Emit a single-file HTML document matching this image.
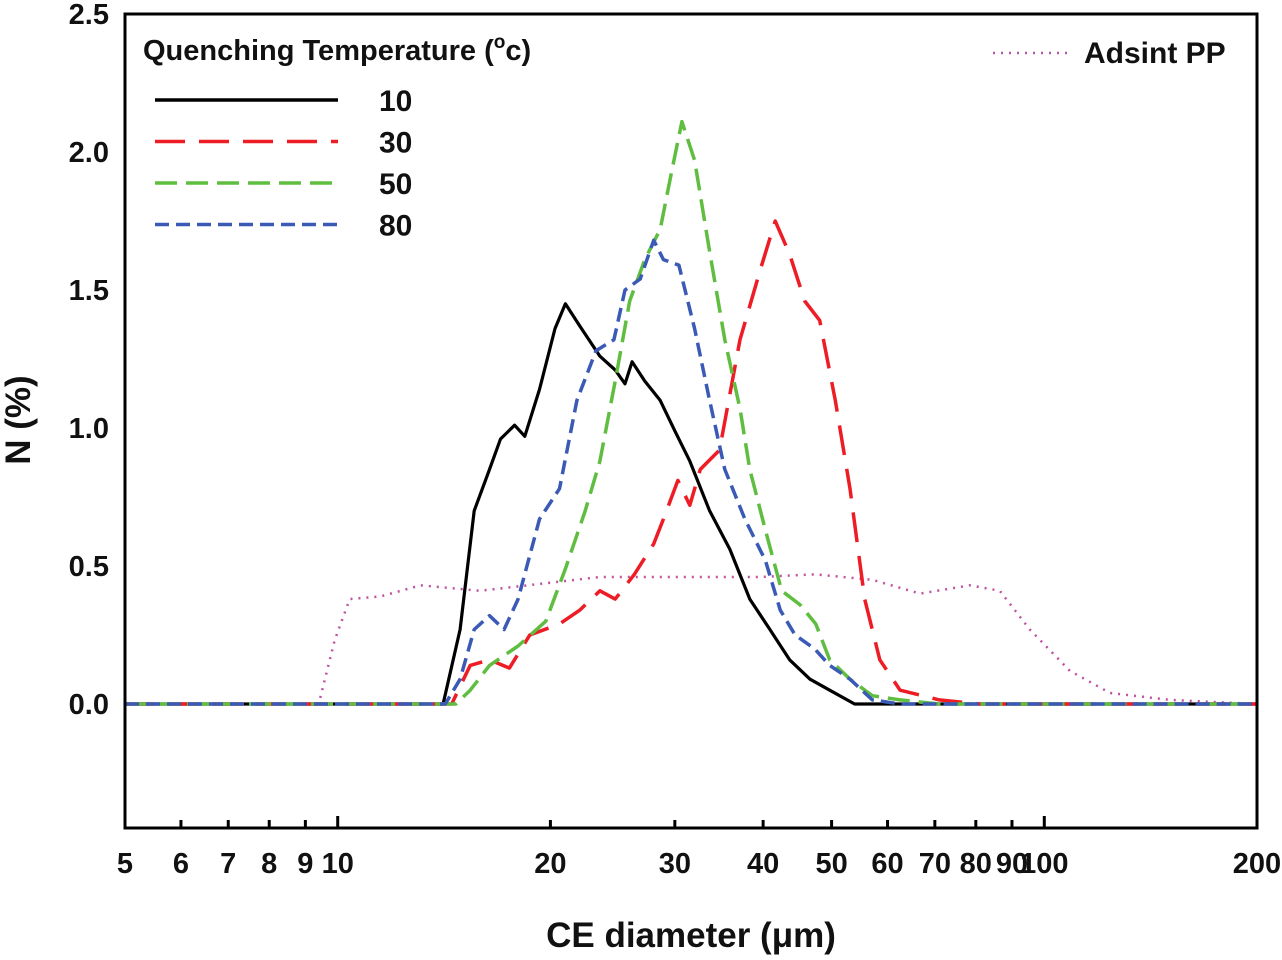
<!DOCTYPE html>
<html><head><meta charset="utf-8"><style>
body{margin:0;background:#fff;width:1282px;height:955px;overflow:hidden}
svg text{font-family:"Liberation Sans",Arial,sans-serif;font-weight:bold;fill:#111}
</style></head><body>
<svg id="chart" width="1282" height="955" xmlns="http://www.w3.org/2000/svg"></svg>
<script>
const xTicks=[5,6,7,8,9,10,20,30,40,50,60,70,80,90,100,200];
const xTickLabels=["5","6","7","8","9","10","20","30","40","50","60","70","80","90","100","200"];
const yTicks=[0,0.5,1.0,1.5,2.0,2.5];
const yTickLabels=["0.0","0.5","1.0","1.5","2.0","2.5"];
const d10=[5,14.1,14.9,15.6,16.4,17.0,17.8,18.4,19.3,20.3,21.0,22.0,23.5,24.7,25.5,26.1,27.2,28.6,30.0,31.5,33.6,35.9,38.3,40.9,43.6,46.6,49.7,53.9,62.5,200];
const n10=[0,0,0.27,0.70,0.85,0.96,1.01,0.97,1.14,1.36,1.45,1.37,1.26,1.21,1.16,1.24,1.17,1.10,0.99,0.88,0.70,0.56,0.38,0.27,0.16,0.09,0.05,0,0,0];
const d30=[5,14.5,15.4,16.4,17.5,18.7,20.6,22.0,23.5,24.7,26.3,28.0,28.9,30.3,31.5,32.6,34.7,37.1,39.6,41.6,43.6,45.8,48.1,50.6,53.1,55.7,58.5,62.5,71,81,200];
const n30=[0,0,0.14,0.16,0.13,0.25,0.29,0.34,0.41,0.38,0.47,0.58,0.67,0.81,0.72,0.85,0.92,1.32,1.57,1.75,1.63,1.46,1.39,1.10,0.78,0.38,0.16,0.05,0.015,0,0];
const d50=[5,14.7,15.4,16.4,18.0,19.7,21.0,22.4,23.5,24.7,25.9,27.2,28.6,29.7,30.7,32.0,33.6,35.3,37.1,38.3,40.3,42.5,45.1,47.5,49.7,53.1,57.1,62.5,71,200];
const n50=[0,0,0.05,0.14,0.21,0.30,0.49,0.70,0.88,1.17,1.46,1.61,1.72,1.93,2.11,1.97,1.64,1.32,1.07,0.85,0.63,0.41,0.36,0.29,0.16,0.09,0.03,0.015,0,0];
const d80=[5,14.2,14.9,15.6,16.4,17.2,18.0,19.3,20.6,21.8,23.2,24.6,25.5,26.8,28.0,28.9,30.4,32.0,33.6,35.3,37.7,40.3,42.3,44.4,47.3,49.7,53.1,57.1,62.5,200];
const n80=[0,0,0.09,0.27,0.32,0.27,0.38,0.67,0.78,1.10,1.28,1.32,1.50,1.54,1.68,1.61,1.59,1.36,1.10,0.85,0.67,0.52,0.34,0.25,0.20,0.14,0.09,0.015,0,0];
const dPP=[5,9.4,9.9,10.4,11.5,13.1,15.9,23.5,32.6,39.6,47.3,57.1,66.7,78.5,86.5,95.4,108.7,123.9,150.6,200];
const nPP=[0,0,0.23,0.38,0.39,0.43,0.41,0.46,0.46,0.46,0.47,0.45,0.40,0.43,0.41,0.27,0.12,0.04,0.015,0];

const NS="http://www.w3.org/2000/svg";
const svg=document.getElementById('chart');
const L=125,R=1257,T=14,B=828;
const xs=d=>L+(Math.log10(d)-Math.log10(5))/(Math.log10(200)-Math.log10(5))*(R-L);
const ys=v=>704-v*276;
function mk(tag,attrs){const e=document.createElementNS(NS,tag);for(const k in attrs)e.setAttribute(k,attrs[k]);svg.appendChild(e);return e;}

const clip=document.createElementNS(NS,'clipPath');clip.setAttribute('id','pc');
const cr=document.createElementNS(NS,'rect');cr.setAttribute('x',L);cr.setAttribute('y',T);cr.setAttribute('width',R-L);cr.setAttribute('height',B-T);
clip.appendChild(cr);svg.appendChild(clip);

function series(d,n,color,dash,w,name){
  const p=mk('polyline',{points:d.map((x,i)=>xs(x).toFixed(1)+','+ys(n[i]).toFixed(1)).join(' '),fill:'none',stroke:color,'stroke-width':w,'stroke-dasharray':dash,'clip-path':'url(#pc)','stroke-linejoin':'round'});
  
  
}
series(dPP,nPP,'#c050a0','2 6',2.5,'series-adsint-pp');
series(d10,n10,'#000','none',3.2,'series-10c');
series(d30,n30,'#ee1c25','30 14',3.5,'series-30c');
series(d50,n50,'#5fbe3f','22 9',3.5,'series-50c');
series(d80,n80,'#3b5ab5','14 7',3.5,'series-80c');

const frame=mk('rect',{x:L,y:T,width:R-L,height:B-T,fill:'none',stroke:'#000','stroke-width':3});


xTicks.forEach((t,i)=>{
  const x=xs(t);const len=(t===10||t===100)?12:8;
  const tk=mk('line',{x1:x,x2:x,y1:B,y2:B-len,stroke:'#000','stroke-width':3});
  
  const tx=mk('text',{x:x,y:873,'font-size':29,'text-anchor':'middle'});
  tx.textContent=xTickLabels[i];
  
});
yTicks.forEach((t,i)=>{
  const tx=mk('text',{x:109,y:ys(t)+10,'font-size':29,'text-anchor':'end'});
  tx.textContent=yTickLabels[i];
  
});
const xt=mk('text',{x:691,y:947,'font-size':35,'text-anchor':'middle'});xt.textContent='CE diameter (μm)';

const yt=mk('text',{x:0,y:0,'font-size':35,'text-anchor':'middle',transform:'translate(30,420) rotate(-90)'});yt.textContent='N (%)';


const lt=mk('text',{x:143,y:60,'font-size':29});lt.innerHTML='Quenching Temperature (<tspan dy="-12" font-size="19">o</tspan><tspan dy="12">c)</tspan>';

const leg=[['10','#000','none'],['30','#ee1c25','30 14'],['50','#5fbe3f','22 9'],['80','#3b5ab5','14 7']];
leg.forEach((e,i)=>{
  const y=100+i*41.5;
  const l=mk('line',{x1:155,x2:338,y1:y,y2:y,stroke:e[1],'stroke-width':3.5,'stroke-dasharray':e[2]});
  
  const t=mk('text',{x:379,y:y+11,'font-size':30});t.textContent=e[0];
  
});
const pl=mk('line',{x1:993,x2:1068,y1:53,y2:53,stroke:'#c050a0','stroke-width':2.5,'stroke-dasharray':'2 6'});

const pt=mk('text',{x:1084,y:63,'font-size':30});pt.textContent='Adsint PP';

</script>
</body></html>
